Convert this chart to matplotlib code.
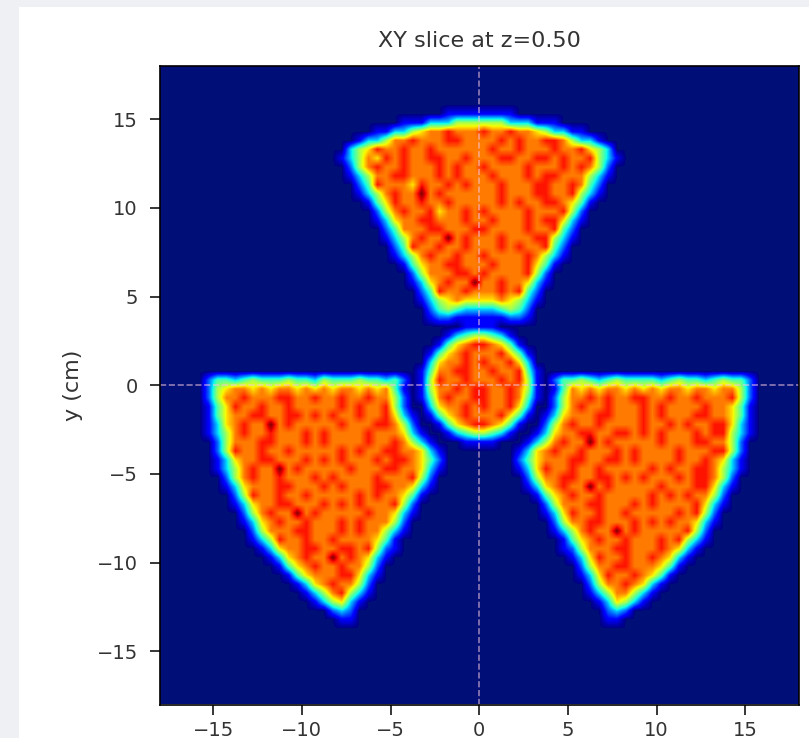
import numpy as np
import matplotlib
matplotlib.use('Agg')
import matplotlib.pyplot as plt
from matplotlib.colors import ListedColormap
from matplotlib.patches import Rectangle

# Intensity, one digit per 0.5 cm cell (0 = background, 9 = peak)
# Each row is "left of x=0|right of x=0", top row is y=15.25, rows above/below are background
filas = [
    "1111|1111",
    "111333555|555333111",
    "113356778777|877877653311",
    "13357787778877|77878778875331",
    "356877877877777|787787778778653",
    "1357687877887787|7788778878778531",
    "257877877787877|877778777878752",
    "135778877787877|787778788777531",
    "24877768778787|77877788778742",
    "13578779787777|77877788778531",
    "1468778778777|7787877887641",
    "257877867787|877778777852",
    "136778877787|787778788631",
    "24777887778|87777877842",
    "13578779787|77877788531",
    "2487787787|7787877842",
    "1357877877|8777787531",
    "146778877|787778641",
    "25777887|87777852",
    "13678779|77877631",
    "2487787|7787842",
    "1356766|6676531",
    "245433|334542",
    "122111|111221",
    "11|11",
    "1345|5431",
    "14678|87641",
    "146787|778641",
    "367787|877863",
    "1477887|7877841",
    "2443454445443544454434201587787|7787851024454345444434544345442",
    "2567767677676767767674101577878|8778751014767677676767767767752",
    "2577877788778778778775201478778|8778741025778787788778778777852",
    "1468778778777778787785200367787|8778630025787787778787777877641",
    "1467788778878787787786310146787|7786410136777887778787778877641",
    "1367877978777778777887520014678|8764100257877877778778787788631",
    "1357877877787877778777631001345|5431001367788778878787778788531",
    "257778877787877778778753100011|110001357877978777778777887752",
    "258778778777778787788776310000|000013678778777878777787778852",
    "136778877787878777878876420000|000024677788778878777787787631",
    "135787797877777877788776310000|000013687787787777787877887531",
    "25787787778787777877785200000|00000257788778878787778788752",
    "136777887778787778877631" + "00000|00000" + "136787797877777877788631",
    "2587787787777787877641" + "000000|000000" + "1467877877777878787752",
    "136778877787878777852" + "0000000|0000000" + "257778877787877778631",
    "25787797877777877631" + "0000000|0000000" + "13687787787777787852",
    "1367877877787877752" + "00000000|00000000" + "2577887778787877631",
    "257778877787877531" + "00000000|00000000" + "135787797877777852",
    "13587787787777641" + "000000000|000000000" + "14678778777878531",
    "1367788778878521" + "000000000|000000000" + "1257778877787631",
    "13678779787631" + "0000000000|0000000000" + "13687787787631",
    "146787787752" + "00000000000|00000000000" + "257788777641",
    "14677788631" + "00000000000|00000000000" + "13687787641",
    "136787752" + "000000000000|000000000000" + "257787631",
    "13578531" + "000000000000|000000000000" + "13577531",
    "135631" + "0000000000000|0000000000000" + "136531",
    "232" + "00000000000000|00000000000000" + "232",
    "11" + "00000000000000|00000000000000" + "11",
]
filas_arriba = 5

xticks = [-15, -10, -5, 0, 5, 10, 15]
yticks = [-15, -10, -5, 0, 5, 10, 15]

# Pasar las filas de texto a una matriz de 72x72
matriz = np.zeros((72, 72))
for i, fila in enumerate(filas):
    izq, der = fila.split('|')
    texto = izq.rjust(36, '0') + der.ljust(36, '0')
    matriz[filas_arriba + i] = [int(c) for c in texto]

# Jet con el fondo un poco menos violeta, como en la captura
colores = plt.get_cmap('jet')(np.arange(256))
colores[0] = matplotlib.colors.to_rgba('#000f78')
mapa = ListedColormap(colores)

fig = plt.figure(figsize=(8.09, 7.38), dpi=100, facecolor='#eef0f4')
fig.patches.append(Rectangle((19 / 809, 0), 790 / 809, 731 / 738, transform=fig.transFigure,
                             facecolor='white', edgecolor='none', zorder=-1))

ax = fig.add_axes([160 / 809, 1 - 704.5 / 738, 638.5 / 809, 638.5 / 738])
ax.imshow(matriz, cmap=mapa, vmin=0, vmax=9, extent=[-18, 18, -18, 18], interpolation='bilinear')

# Lineas de referencia en los ejes
ax.axhline(0, color='#f4c6e0', linestyle='--', linewidth=1.2, alpha=0.6)
ax.axvline(0, color='#f4c6e0', linestyle='--', linewidth=1.2, alpha=0.6)

ax.set_xticks(xticks)
ax.set_yticks(yticks)
ax.tick_params(labelsize=14, length=7, width=1.1, labelcolor='#333333')
ax.tick_params(axis='x', pad=5)
ax.tick_params(axis='y', pad=9)
for lado in ax.spines.values():
    lado.set_linewidth(1.2)
ax.set_title('XY slice at z=0.50', fontsize=16, pad=14, color='#333333')
ax.set_ylabel('y (cm)', fontsize=16, labelpad=10, color='#333333')

fig.savefig('out.png', dpi=100, facecolor=fig.get_facecolor())
